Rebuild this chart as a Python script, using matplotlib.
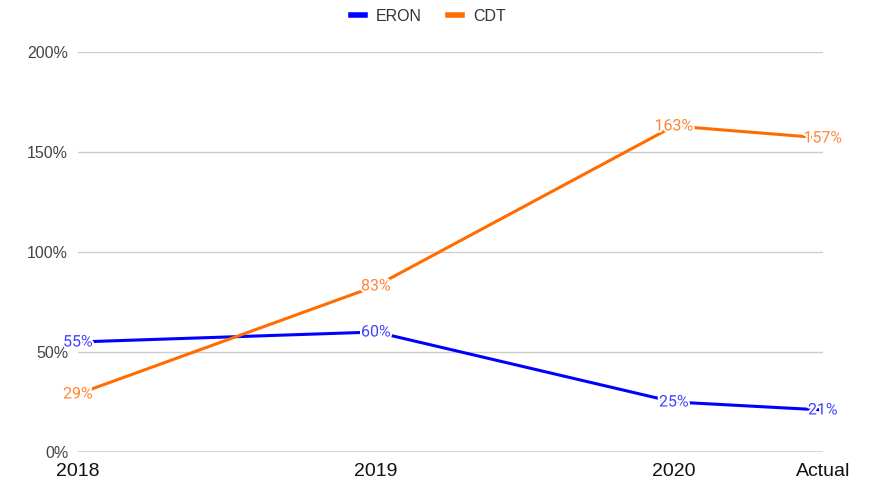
import matplotlib.pyplot as plt
import matplotlib.patheffects as pe
from matplotlib.ticker import FuncFormatter

# Data
x_pos = [2018, 2019, 2020, 2020.5]
x_labels = ["2018", "2019", "2020", "Actual"]
eron = [55, 60, 25, 21]
cdt = [29, 83, 163, 157]

blue = "#0000ff"
orange = "#ff6d01"

fig = plt.figure(figsize=(8.74, 4.86), dpi=100)
ax = fig.add_axes([0.0892, 0.07, 0.8524, 0.823])

ax.plot(x_pos, eron, color=blue, lw=2.2, label="ERON", zorder=3)
ax.plot(x_pos, cdt, color=orange, lw=2.2, label="CDT", zorder=3)

# Data labels with a white halo, centred on each point
halo = [pe.withStroke(linewidth=3, foreground="white")]
for xs, ys, col in [(x_pos, eron, "#4040ff"), (x_pos, cdt, "#ff8533")]:
    for x, y in zip(xs, ys):
        ax.text(x, y, f"{y}%", color=col, fontsize=11.5, family="Roboto",
                ha="center", va="center", path_effects=halo, zorder=4)

ax.set_xlim(2018, 2020.5)
ax.set_ylim(0, 200)
ax.set_yticks([0, 50, 100, 150, 200])
ax.yaxis.set_major_formatter(FuncFormatter(lambda v, p: f"{v:.0f}%"))
ax.set_xticks(x_pos)
ax.set_xticklabels(x_labels)

ax.grid(axis="y", color="#cccccc", lw=1, zorder=0)
ax.axhline(0, color="#333333", lw=1, zorder=1)
for s in ax.spines.values():
    s.set_visible(False)
ax.tick_params(axis="both", length=0)
ax.tick_params(axis="y", labelsize=11.5, labelcolor="#444444", pad=7)
ax.tick_params(axis="x", labelsize=14, labelcolor="#111111", pad=8)
for t in ax.get_xticklabels() + ax.get_yticklabels():
    t.set_family("Liberation Sans")

leg = fig.legend(loc="upper center", bbox_to_anchor=(0.49, 1.012), ncol=2,
                 frameon=False, handlelength=0.9, handletextpad=0.7,
                 columnspacing=1.6,
                 prop={"family": "Liberation Sans", "size": 11.5})
for h in leg.get_lines():
    h.set_linewidth(4)
for t in leg.get_texts():
    t.set_color("#333333")

fig.savefig("out.png", dpi=100)
